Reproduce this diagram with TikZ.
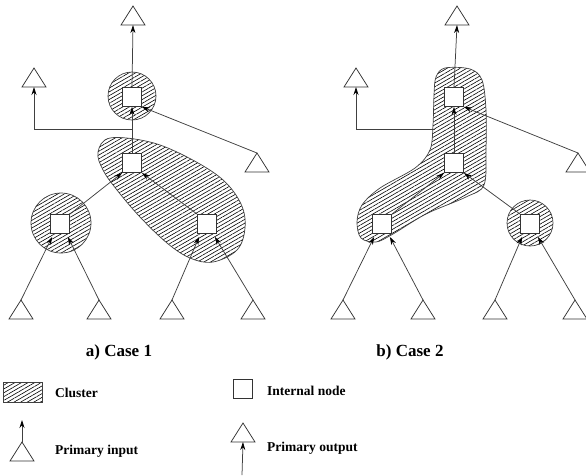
\documentclass[tikz,border=0pt]{standalone}
\usepackage{fontspec}
\setmainfont{Liberation Serif}
\usetikzlibrary{arrows.meta,patterns.meta,backgrounds,calc}
\tikzset{
  edge/.style={draw=black!75,line width=0.75pt},
  arr/.style={edge,-{Stealth[length=8pt,width=5pt,color=black]}},
  inode/.style={draw=black!80,line width=0.75pt,fill=white,minimum size=19pt,inner sep=0pt},
  hatch/.style={pattern={Lines[angle=30,distance=3.3pt,line width=0.6pt]},draw=black!75,line width=0.7pt},
  clcirc/.style={hatch,circle,inner sep=0pt},
  lbl/.style={font=\bfseries\fontsize{17}{17}\selectfont,inner sep=0pt},
  leg/.style={font=\bfseries\fontsize{13.5}{13.5}\selectfont,inner sep=0pt,anchor=west},
  tri/.pic={\draw[black!80,line width=0.75pt] (-12,0) -- (0,-19) -- (12,0) -- cycle;
            \coordinate (-apex) at (0,-19); \coordinate (-base) at (0,0);}
}
\begin{document}
\begin{tikzpicture}[x=1pt,y=-1pt]
\useasboundingbox (0,0) rectangle (586,475);

% ===== Case 1 =====
\node[inode] (a1) at (132,97) {};
\node[inode] (b1) at (132,163) {};
\node[inode] (c1) at (60,224) {};
\node[inode] (d1) at (207,224) {};
\pic (ta1) at (133,25) {tri};
\pic (tl1) at (34,87) {tri};
\pic (tr1) at (257,172) {tri};
\pic (p11) at (21,319) {tri};
\pic (p12) at (99,319) {tri};
\pic (p13) at (172,319) {tri};
\pic (p14) at (253,319) {tri};
\coordinate (j1) at (132,129);

\begin{scope}[on background layer]
  \node[clcirc,minimum size=48pt] (k1) at (132,96) {};
  \node[clcirc,minimum size=60pt] (k2) at (61,223) {};
  \path[hatch] plot[smooth cycle,tension=0.6] coordinates
    {(98,152) (110,138) (150,142) (187,157) (222,179) (241,204) (245,228)
     (237,250) (213,262) (190,258) (167,243) (140,217) (117,190) (103,170)};
\end{scope}

\draw[arr] (a1.north) -- (ta1-base);
\draw[arr] (j1) -| (tl1-base);
\draw[arr] (b1.north) -- (a1.south);
\draw[arr] (tr1-apex) -- (a1.south east);
\draw[arr] (c1.north east) -- (b1.south west);
\draw[arr] (d1.north west) -- (b1.south east);
\draw[arr] (p11-apex) -- ($(c1.south west)+(2,3)$);
\draw[arr] (p12-apex) -- ($(c1.south east)+(-2,3)$);
\draw[arr] (p13-apex) -- ($(d1.south west)+(2,3)$);
\draw[arr] (p14-apex) -- ($(d1.south east)+(-2,3)$);

% ===== Case 2 =====
\node[inode] (a2) at (454,97) {};
\node[inode] (b2) at (454,163) {};
\node[inode] (c2) at (382,224) {};
\node[inode] (d2) at (530,224) {};
\pic (ta2) at (457,25) {tri};
\pic (tl2) at (356,87) {tri};
\pic (tr2) at (578,172) {tri};
\pic (p21) at (343,319) {tri};
\pic (p22) at (423,319) {tri};
\pic (p23) at (495,319) {tri};
\pic (p24) at (575,319) {tri};
\coordinate (j2) at (435,129);

\begin{scope}[on background layer]
  \node[clcirc,minimum size=46pt] (k3) at (530,223) {};
  \path[hatch] plot[smooth cycle,tension=0.55] coordinates
    {(436,77) (445,68) (470,69) (482,80) (486,110) (486,150) (484,185)
     (466,197) (426,214) (393,234) (376,242) (361,238) (357,222) (362,205)
     (380,188) (415,168) (430,150) (433,125) (434,95)};
\end{scope}

\draw[arr] (a2.north) -- (ta2-base);
\draw[arr] (j2) -| (tl2-base);
\draw[arr] (b2.north) -- (a2.south);
\draw[arr] (tr2-apex) -- (a2.south east);
\draw[arr] (c2.north east) -- (b2.south west);
\draw[arr] (d2.north west) -- (b2.south east);
\draw[arr] (p21-apex) -- ($(c2.south west)+(2,3)$);
\draw[arr] (p22-apex) -- ($(c2.south east)+(-2,3)$);
\draw[arr] (p23-apex) -- ($(d2.south west)+(2,3)$);
\draw[arr] (p24-apex) -- ($(d2.south east)+(-2,3)$);

% ===== Captions =====
\node[lbl] (cap1) at (119,352) {a) Case 1};
\node[lbl] (cap2) at (410,352) {b) Case 2};

% ===== Legend =====
\path[hatch] (3,382) rectangle (42,402);
\node[leg] (lc) at (55,393) {Cluster};
\node[inode] (ls) at (243,389) {};
\node[leg] (li) at (267,391) {Internal node};
\pic (lpi) at (22,461) {tri};
\coordinate (lpiend) at (22,420);
\draw[arr] (lpi-apex) -- (lpiend);
\node[leg] (lin) at (55,451) {Primary input};
\pic (lpo) at (243,442) {tri};
\coordinate (lpostart) at (242,475);
\draw[arr] (lpostart) -- (lpo-base);
\node[leg] (lout) at (267,448) {Primary output};
\end{tikzpicture}
\end{document}
